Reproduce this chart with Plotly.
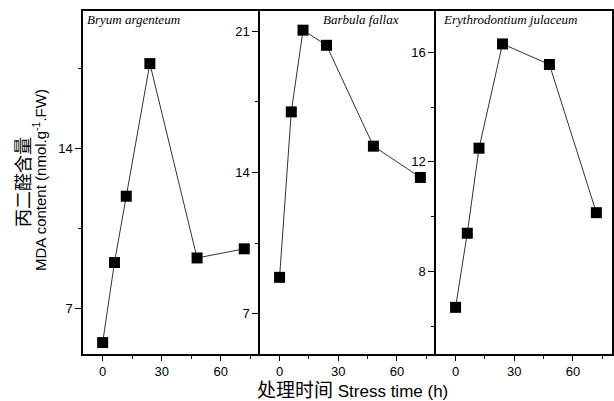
import plotly.graph_objects as go

hours = [0, 6, 12, 24, 48, 72]
bryum = [5.5, 9.0, 11.9, 17.7, 9.2, 9.6]
barbula = [8.8, 17.0, 21.05, 20.3, 15.3, 13.75]
erythro = [6.7, 9.4, 12.5, 16.3, 15.55, 10.15]
species = ["Bryum argenteum", "Barbula fallax", "Erythrodontium julaceum"]

fig = go.Figure()
series = [bryum, barbula, erythro]
for i, vals in enumerate(series):
    fig.add_trace(go.Scatter(
        x=hours, y=vals, mode="lines+markers",
        xaxis="x" if i == 0 else f"x{i+1}",
        yaxis="y" if i == 0 else f"y{i+1}",
        line=dict(color="#333333", width=1),
        marker=dict(symbol="square", size=11, color="black"),
        showlegend=False, cliponaxis=False,
    ))

W, H = 614, 401
ml, mr, mt, mb = 83, 2, 11, 47
pw = W - ml - mr
ph = H - mt - mb
edges = [83, 260, 436, 612]
doms = [[(edges[i] - ml) / pw, (edges[i + 1] - ml) / pw] for i in range(3)]

tickfont = dict(family="Liberation Sans, Arial", size=13, color="black")
yranges = [[5, 20], [5, 22], [5, 17.5]]
ydticks = [7, 7, 4]
layout = dict(
    width=W, height=H,
    margin=dict(l=ml, r=mr, t=mt, b=mb, autoexpand=False),
    plot_bgcolor="white", paper_bgcolor="white",
)
for i in range(3):
    sx = "" if i == 0 else str(i + 1)
    layout[f"xaxis{sx}"] = dict(
        domain=doms[i], range=[-10, 80], dtick=30, tick0=0,
        ticks="outside", ticklen=5, tickwidth=1.2, tickcolor="black",
        minor=dict(dtick=15, tick0=0, ticks="outside", ticklen=3, tickcolor="black", tickwidth=1.2),
        showline=True, linecolor="black", linewidth=1.5, mirror=True,
        showgrid=False, zeroline=False, tickfont=tickfont,
        anchor="y" if i == 0 else f"y{i+1}", automargin=False,
    )
    layout[f"yaxis{sx}"] = dict(
        domain=[0, 1], range=yranges[i], dtick=ydticks[i], tick0=0,
        ticks="outside", ticklen=6, tickwidth=1.2, tickcolor="black",
        minor=dict(dtick=ydticks[i] / 2, tick0=0, ticks="outside", ticklen=3, tickcolor="black", tickwidth=1.2),
        showline=True, linecolor="black", linewidth=1.5, mirror=(i == 2),
        showgrid=False, zeroline=False, tickfont=tickfont,
        anchor="x" if i == 0 else f"x{i+1}", automargin=False,
    )
fig.update_layout(**layout)

title_x = [-8.9, 21.3, -7.3]
for i, name in enumerate(species):
    sx = "" if i == 0 else str(i + 1)
    fig.add_annotation(
        text=f"<i>{name}</i>", xref=f"x{sx}", yref=f"y{sx} domain",
        x=title_x[i], y=(354 - 19) / ph,
        xanchor="left", yanchor="middle", showarrow=False,
        font=dict(family="Liberation Serif, Times New Roman", size=13, color="black"),
    )

# axis titles
fig.add_annotation(
    text="丙二醛含量", xref="paper", yref="paper",
    x=(22 - ml) / pw, y=(354 - 182) / ph, textangle=-90,
    xanchor="center", yanchor="middle", showarrow=False,
    font=dict(family="Noto Sans CJK SC", size=18, color="black"),
)
fig.add_annotation(
    text="MDA content (nmol.g<sup>-1</sup>.FW)", xref="paper", yref="paper",
    x=(39 - ml) / pw, y=(354 - 180) / ph, textangle=-90,
    xanchor="center", yanchor="middle", showarrow=False,
    font=dict(family="Liberation Sans, Arial", size=15, color="black"),
)
fig.add_annotation(
    text='<span style="font-family:Noto Sans CJK SC;font-size:19px">处理时间</span> Stress time (h)',
    xref="paper", yref="paper",
    x=(352 - ml) / pw, y=-(389 - 354) / ph,
    xanchor="center", yanchor="middle", showarrow=False,
    font=dict(family="Liberation Sans, Arial", size=17, color="black"),
)

fig.write_html("out.html", config={"displayModeBar": False},
               post_script="document.body.style.margin='0';document.body.style.padding='0';")
